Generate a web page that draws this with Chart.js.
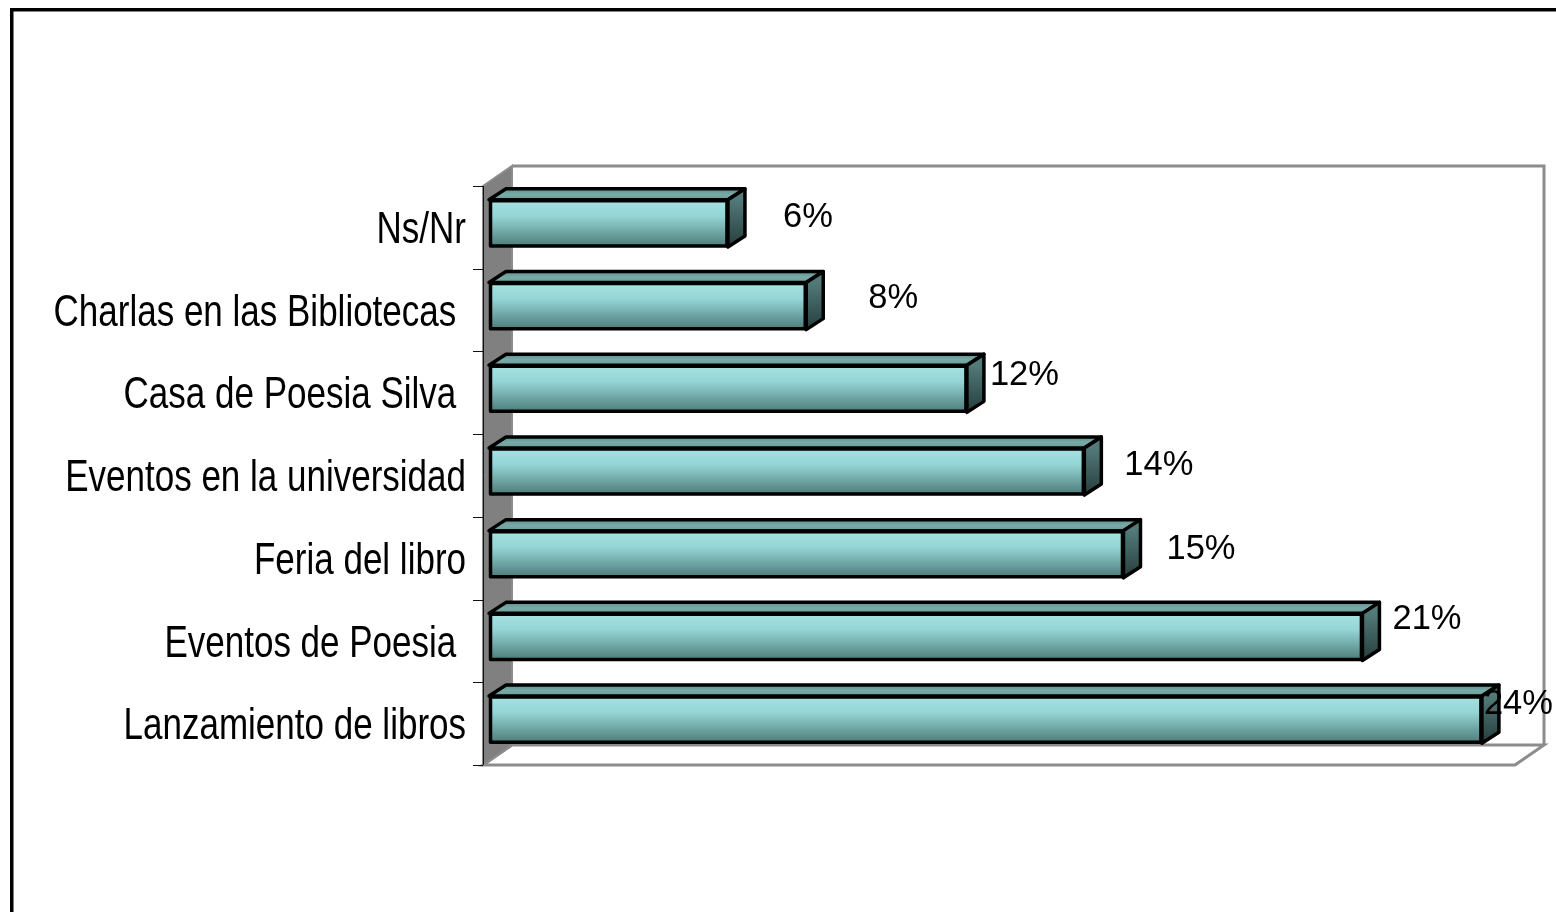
<!DOCTYPE html>
<html><head><meta charset="utf-8">
<script src="https://cdn.jsdelivr.net/npm/chart.js@4/dist/chart.umd.min.js"></script>
<style>html,body{margin:0;padding:0;background:#fff;overflow:hidden}#c{display:block}</style>
</head><body><canvas id="c" width="1556" height="912"></canvas>
<script>
// ---- data ----
const categories = ['Ns/Nr', 'Charlas en las Bibliotecas ', 'Casa de Poesia Silva ', 'Eventos en la universidad', 'Feria del libro', 'Eventos de Poesia ', 'Lanzamiento de libros'];
const values = [5.8, 7.7, 11.6, 14.45, 15.4, 21.2, 24.1];
const axisMin = 0;
const axisMax = 25;

// ---- style ----
const FONT = "'Liberation Sans', Arial, sans-serif";
const BAR_PCT = 0.57;
const DEPTH_X = 17, DEPTH_Y = -11;
const WALL_X = 29, WALL_Y = -20;
const SHIFT = 4;
const VAL_FS = 34.5;
const labelNudge = { dx: [38, 45, 6, 23, 26, 13, -15], dy: [-8.5, -10, -16.5, -9, -8, -20.5, -18] };

const excel3d = {
  id: 'excel3d',
  beforeDraw(chart) {
    const ctx = chart.ctx, a = chart.chartArea, ys = chart.scales.y;
    ctx.save();
    ctx.fillStyle = '#fff';
    ctx.fillRect(0, 0, chart.width, chart.height);
    ctx.strokeStyle = '#000'; ctx.lineWidth = 3.5;
    ctx.strokeRect(11.75, 9.75, chart.width + 100, chart.height + 100);
    const L = a.left - 6, R = a.right - 4, T = a.top + SHIFT, B = a.bottom + SHIFT;
    // back wall
    ctx.fillStyle = '#fff';
    ctx.fillRect(L + WALL_X, T + WALL_Y, R - L, B - T);
    ctx.strokeStyle = '#8c8c8c'; ctx.lineWidth = 3; ctx.lineJoin = 'miter';
    ctx.beginPath();
    ctx.moveTo(L + WALL_X, T + WALL_Y); ctx.lineTo(R + WALL_X, T + WALL_Y); ctx.lineTo(R + WALL_X, B + WALL_Y);
    ctx.stroke();
    // floor
    ctx.beginPath();
    ctx.moveTo(L, B); ctx.lineTo(L + WALL_X, B + WALL_Y); ctx.lineTo(R + WALL_X, B + WALL_Y); ctx.lineTo(R, B); ctx.closePath();
    ctx.fillStyle = '#fff'; ctx.fill(); ctx.stroke();
    // left side wall
    ctx.beginPath();
    ctx.moveTo(L, T); ctx.lineTo(L + WALL_X, T + WALL_Y); ctx.lineTo(L + WALL_X, B + WALL_Y); ctx.lineTo(L, B); ctx.closePath();
    ctx.fillStyle = '#808080'; ctx.fill();
    ctx.lineWidth = 2; ctx.strokeStyle = '#8c8c8c'; ctx.stroke();
    // axis line + ticks
    ctx.strokeStyle = '#111'; ctx.lineWidth = 1;
    ctx.beginPath();
    ctx.moveTo(L + 0.5, T); ctx.lineTo(L + 0.5, B);
    const n = categories.length;
    const band = (B - T) / n;
    for (let i = 0; i <= n; i++) {
      const yy = (i < n ? ys.getPixelForValue(i) - band / 2 : ys.getPixelForValue(n - 1) + band / 2) + SHIFT;
      const py = Math.round(yy) + 0.5;
      ctx.moveTo(L - 10, py); ctx.lineTo(L, py);
    }
    ctx.stroke();
    // category labels (vertically stretched text)
    const fs = 35, vs = 1.25;
    ctx.fillStyle = '#000';
    ctx.font = fs + 'px ' + FONT;
    ctx.textAlign = 'right'; ctx.textBaseline = 'alphabetic';
    ys.getLabels().forEach((lab, i) => {
      const cy = ys.getPixelForValue(i) + SHIFT;
      const base = cy + 0.716 * fs * vs / 2;
      ctx.save();
      ctx.translate(466, base);
      ctx.scale(1, vs);
      ctx.fillText(lab, 0, 0);
      ctx.restore();
    });
    ctx.restore();
  },
  afterDatasetsDraw(chart) {
    const ctx = chart.ctx;
    const meta = chart.getDatasetMeta(0);
    ctx.save();
    ctx.lineJoin = 'round';
    meta.data.forEach((el, i) => {
      const p = el.getProps(['x', 'y', 'base', 'height'], true);
      const top = p.y - p.height / 2, bot = p.y + p.height / 2;
      const x0 = p.base, x1 = p.x;
      // top face
      let g = ctx.createLinearGradient(0, top + DEPTH_Y, 0, top);
      g.addColorStop(0, '#5f8f8d'); g.addColorStop(0.5, '#78aaa8'); g.addColorStop(1, '#6a9c9a');
      ctx.beginPath();
      ctx.moveTo(x0, top); ctx.lineTo(x0 + DEPTH_X, top + DEPTH_Y); ctx.lineTo(x1 + DEPTH_X, top + DEPTH_Y); ctx.lineTo(x1, top); ctx.closePath();
      ctx.fillStyle = g; ctx.fill();
      ctx.strokeStyle = '#000'; ctx.lineWidth = 3.5; ctx.stroke();
      // side face
      g = ctx.createLinearGradient(0, top, 0, bot);
      g.addColorStop(0, '#527a79'); g.addColorStop(1, '#263d3c');
      ctx.beginPath();
      ctx.moveTo(x1, top); ctx.lineTo(x1 + DEPTH_X, top + DEPTH_Y); ctx.lineTo(x1 + DEPTH_X, bot + DEPTH_Y); ctx.lineTo(x1, bot); ctx.closePath();
      ctx.fillStyle = g; ctx.fill(); ctx.stroke();
      // front border
      ctx.strokeRect(x0 + 1.5, top + 1, x1 - x0 - 2.5, bot - top - 2);
    });
    // value labels
    ctx.fillStyle = '#000';
    ctx.font = VAL_FS + 'px ' + FONT;
    ctx.textAlign = 'left'; ctx.textBaseline = 'alphabetic';
    meta.data.forEach((el, i) => {
      const p = el.getProps(['x', 'y'], true);
      const txt = Math.round(values[i]) + '%';
      const capC = p.y + labelNudge.dy[i];
      ctx.fillText(txt, p.x + DEPTH_X + labelNudge.dx[i], capC + 0.716 * VAL_FS / 2);
    });
    ctx.restore();
  }
};

new Chart(document.getElementById('c'), {
  type: 'bar',
  data: {
    labels: categories,
    datasets: [{
      data: values,
      backgroundColor: (c) => {
        const chart = c.chart, ys = chart.scales && chart.scales.y;
        if (!ys || c.dataIndex === undefined || !ys.height) return '#8ecfcf';
        const cy = ys.getPixelForValue(c.dataIndex);
        const h = ys.height / categories.length * BAR_PCT;
        const g = chart.ctx.createLinearGradient(0, cy - h / 2, 0, cy + h / 2);
        g.addColorStop(0, '#a6e2e2'); g.addColorStop(0.35, '#95d5d5'); g.addColorStop(1, '#4b7a78');
        return g;
      },
      borderColor: '#000',
      borderWidth: 0,
      barPercentage: BAR_PCT,
      categoryPercentage: 1
    }]
  },
  options: {
    indexAxis: 'y',
    responsive: false,
    animation: false,
    layout: { padding: { left: 489, right: 37, top: 182, bottom: 151 } },
    plugins: { legend: { display: false }, tooltip: { enabled: false } },
    scales: {
      x: { display: false, min: axisMin, max: axisMax },
      y: { display: false }
    }
  },
  plugins: [excel3d]
});
</script>
</body></html>
